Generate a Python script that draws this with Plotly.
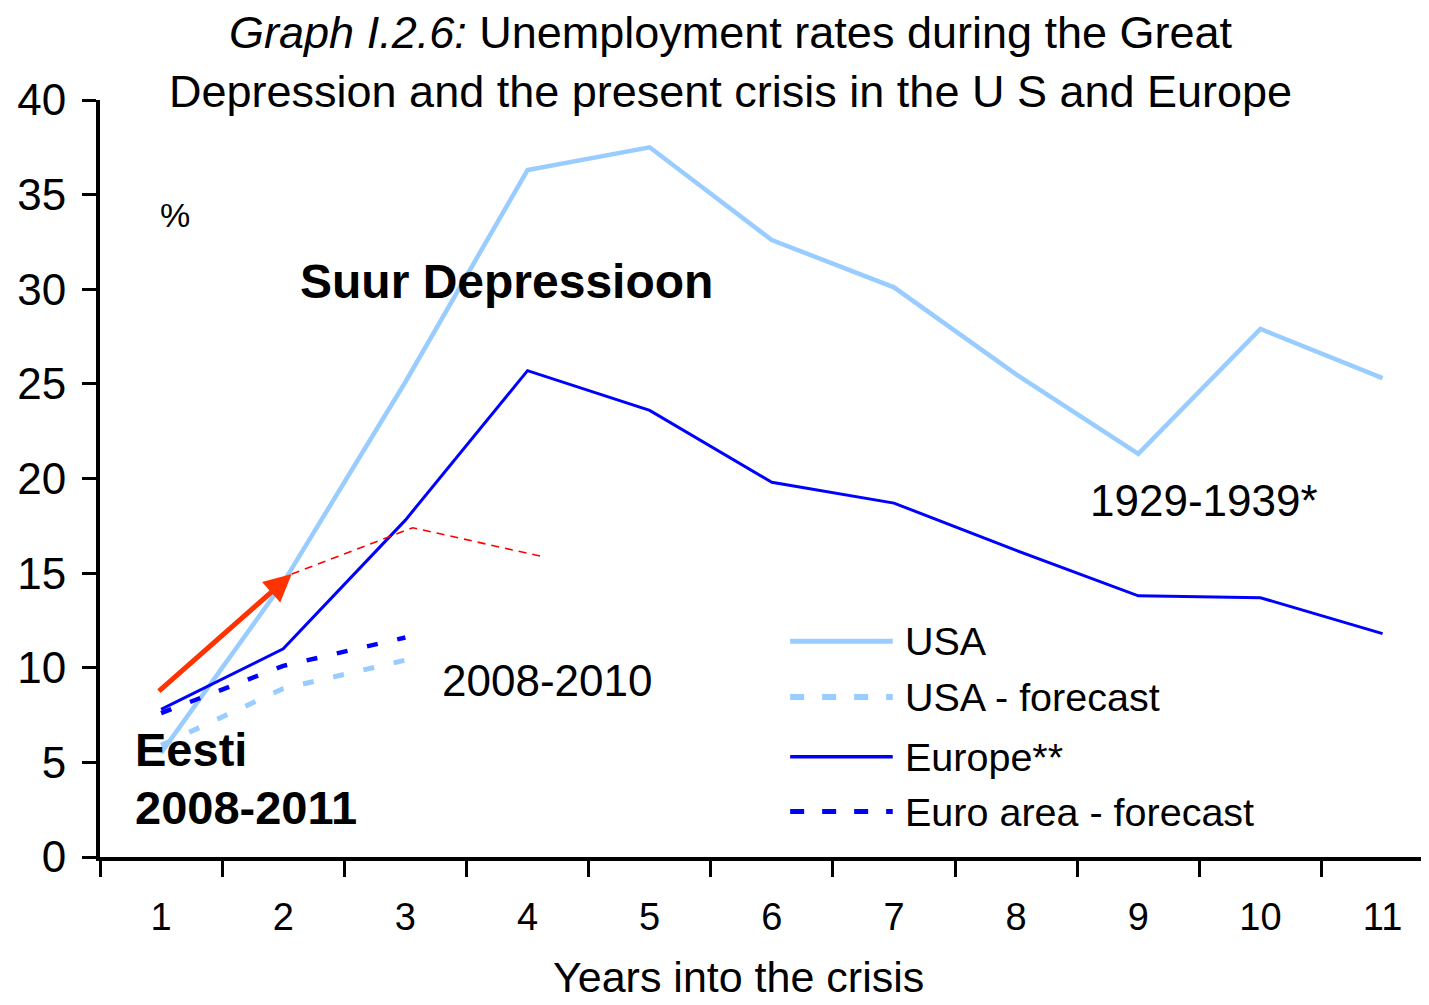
import plotly.graph_objects as go

# ---------------- data ----------------
years = [1, 2, 3, 4, 5, 6, 7, 8, 9, 10, 11]
year_labels = ["1", "2", "3", "4", "5", "6", "7", "8", "9", "10", "11"]
usa_1929 = [5.5, 14.5, 25.1, 36.3, 37.5, 32.6, 30.1, 25.5, 21.3, 27.9, 25.3]
europe_1929 = [7.8, 11.0, 17.8, 25.7, 23.6, 19.8, 18.7, 16.2, 13.8, 13.7, 11.8]

forecast_years = [1, 2, 3]
usa_forecast = [5.9, 8.9, 10.4]
euro_forecast = [7.6, 10.1, 11.6]

# Estonia 2008-2011 (hand-drawn red overlay)
eesti_x = [0.97, 2.07, 3.06, 4.14]
eesti_y = [8.7, 14.95, 17.4, 15.85]

series_names = ["USA", "USA - forecast", "Europe**", "Euro area - forecast"]
y_ticks = [0, 5, 10, 15, 20, 25, 30, 35, 40]

LIGHT = "#99CCFF"
BLUE = "#0000FF"
RED_ARROW = "#FF3300"
RED = "#FF0000"
FONT = "Liberation Sans, Arial, sans-serif"

fig = go.Figure()
fig.add_trace(go.Scatter(x=years, y=usa_1929, mode="lines", name=series_names[0],
                         line=dict(color=LIGHT, width=4.5)))
fig.add_trace(go.Scatter(x=forecast_years, y=usa_forecast, mode="lines", name=series_names[1],
                         line=dict(color=LIGHT, width=5, dash="11px,20px")))
fig.add_trace(go.Scatter(x=years, y=europe_1929, mode="lines", name=series_names[2],
                         line=dict(color=BLUE, width=3)))
fig.add_trace(go.Scatter(x=forecast_years, y=euro_forecast, mode="lines", name=series_names[3],
                         line=dict(color=BLUE, width=4.5, dash="11px,20px")))
fig.add_trace(go.Scatter(x=eesti_x[1:], y=eesti_y[1:], mode="lines", name="Eesti",
                         line=dict(color=RED, width=1.6, dash="8px,6px")))

annotations = []
# red arrow (first Estonian segment)
annotations.append(dict(x=eesti_x[1], y=eesti_y[1], ax=eesti_x[0], ay=eesti_y[0],
                        xref="x", yref="y", axref="x", ayref="y", text="",
                        showarrow=True, arrowhead=2, arrowsize=1.1, arrowwidth=5,
                        arrowcolor=RED_ARROW, standoff=0))

def txt(x, y, s, size, bold=False, xanchor="left", yanchor="middle", xref="x", yref="y"):
    annotations.append(dict(x=x, y=y, xref=xref, yref=yref, text=(f"<b>{s}</b>" if bold else s),
                            showarrow=False, xanchor=xanchor, yanchor=yanchor,
                            font=dict(family=FONT, size=size, color="black")))

# title (two lines)
txt((730 - 100) / 1329, (857 - 5) / 757,
    "<i>Graph I.2.6:</i> Unemployment rates during the Great<br>"
    "Depression and the present crisis in the U S and Europe",
    45, xanchor="center", yanchor="top", xref="paper", yref="paper")

txt(1.11, 33.9, "%", 34, xanchor="center")
txt(2.12, 30.4, "Suur Depressioon", 48, bold=True)
txt(0.77, 5.7, "Eesti", 47, bold=True)
txt(0.77, 2.6, "2008-2011", 47, bold=True)
txt(3.28, 9.35, "2008-2010", 44)
txt(8.59, 18.85, "1929-1939*", 44)
txt((738 - 100) / 1329, (857 - 977) / 757, "Years into the crisis", 43,
    xanchor="center", xref="paper", yref="paper")

# legend drawn by hand (long line samples)
leg_x0, leg_x1, leg_tx = 6.15, 6.99, 7.07
leg_rows = [11.4, 8.45, 5.3, 2.4]
leg_styles = [dict(color=LIGHT, width=5), dict(color=LIGHT, width=6, dash="14px,18px"),
              dict(color=BLUE, width=3.5), dict(color=BLUE, width=5, dash="14px,18px")]
shapes = []
for name, yy, st in zip(series_names, leg_rows, leg_styles):
    shapes.append(dict(type="line", xref="x", yref="y", x0=leg_x0, x1=leg_x1, y0=yy, y1=yy,
                       line=st))
    txt(leg_tx, yy, name, 39.5)

# page body has an 8px margin, so the figure is 8px smaller and margins 8px less
fig.update_layout(
    width=1421, height=997,
    margin=dict(l=92, r=0, t=92, b=148, autoexpand=False),
    paper_bgcolor="white", plot_bgcolor="white",
    showlegend=False,
    annotations=annotations,
    shapes=shapes,
)

fig.update_xaxes(range=[0.5, 0.5 + 1329 / 122.15], tickmode="array", tickvals=years,
                 ticktext=year_labels, ticks="", showgrid=False, zeroline=False,
                 showline=True, linecolor="black", linewidth=4,
                 tickfont=dict(family=FONT, size=38, color="black"),
                 ticklabelstandoff=23,
                 minor=dict(tickmode="array", tickvals=[v - 0.5 for v in years],
                            ticks="outside", ticklen=16, tickwidth=3, tickcolor="black",
                            showgrid=False))
fig.update_yaxes(range=[0, 40], tickmode="array", tickvals=y_ticks,
                 ticks="outside", ticklen=14, tickwidth=3, tickcolor="black",
                 showgrid=False, zeroline=False, showline=True, linecolor="black", linewidth=4,
                 tickfont=dict(family=FONT, size=44, color="black"),
                 ticklabelstandoff=7)

fig.write_html("out.html")
